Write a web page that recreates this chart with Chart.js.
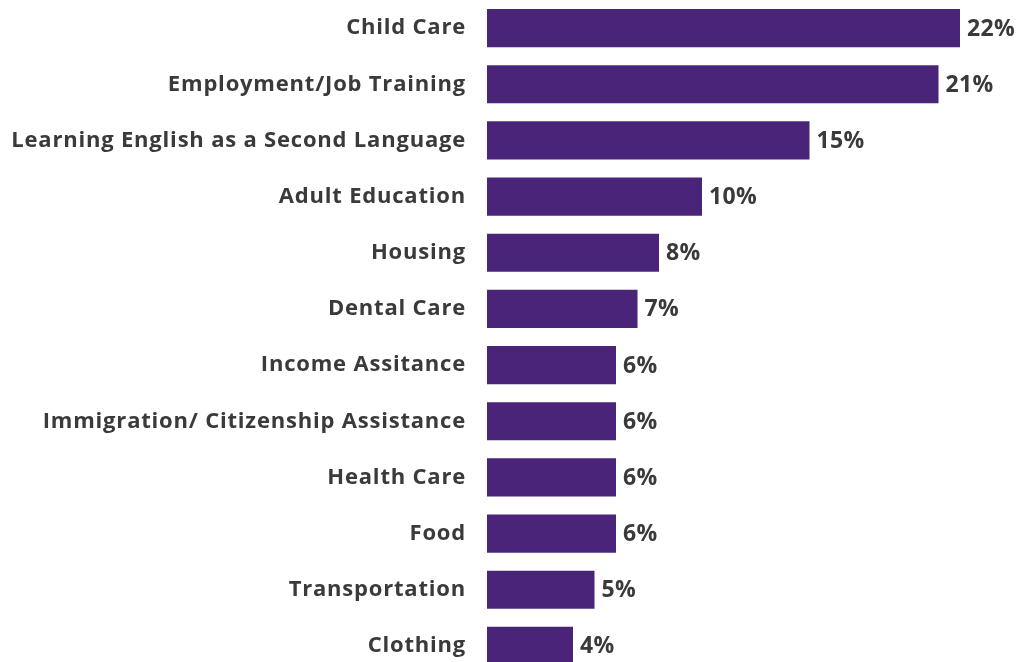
<!DOCTYPE html>
<html>
<head>
<meta charset="utf-8">
<title>Needed services</title>
<script src="https://cdn.jsdelivr.net/npm/chart.js@4.4.1/dist/chart.umd.min.js"></script>
<style>
  html, body { margin: 0; padding: 0; background: #fff; overflow: hidden; }
  #wrap { position: relative; width: 1020px; height: 674px; }
</style>
</head>
<body>
<div id="wrap"><canvas id="chart"></canvas></div>
<script>
  // Anteil der Befragten je benötigter Leistung (in %)
  var categories = [
    'Child Care',
    'Employment/Job Training',
    'Learning English as a Second Language',
    'Adult Education',
    'Housing',
    'Dental Care',
    'Income Assitance',
    'Immigration/ Citizenship Assistance',
    'Health Care',
    'Food',
    'Transportation',
    'Clothing'
  ];
  var shares = [22, 21, 15, 10, 8, 7, 6, 6, 6, 6, 5, 4];

  var BAR = '#4a2479';
  var INK = '#3a3a3a';
  var FONT = '"Open Sans", "Noto Sans", sans-serif';

  // etwas gesperrte Schrift für die Achsenbeschriftung
  var tracking = {
    id: 'tracking',
    beforeDraw: function (chart) { chart.ctx.letterSpacing = '0.8px'; },
    beforeDatasetsDraw: function (chart) { chart.ctx.letterSpacing = '0px'; }
  };

  // Prozentwerte rechts neben die Balken schreiben
  var valueLabels = {
    id: 'valueLabels',
    afterDatasetsDraw: function (chart) {
      var ctx = chart.ctx;
      var meta = chart.getDatasetMeta(0);
      ctx.save();
      ctx.letterSpacing = '0.3px';
      ctx.font = '700 23px ' + FONT;
      ctx.fillStyle = INK;
      ctx.textAlign = 'left';
      ctx.textBaseline = 'middle';
      meta.data.forEach(function (bar, i) {
        ctx.fillText(shares[i] + '%', bar.x + 7, bar.y + 1);
      });
      ctx.restore();
    }
  };

  new Chart(document.getElementById('chart').getContext('2d'), {
    type: 'bar',
    data: {
      labels: categories,
      datasets: [{
        data: shares,
        backgroundColor: BAR,
        borderWidth: 0,
        categoryPercentage: 1,
        barPercentage: 0.68
      }]
    },
    options: {
      indexAxis: 'y',
      responsive: true,
      maintainAspectRatio: false,
      animation: false,
      layout: { padding: { top: 0, right: 17, bottom: 0, left: 0 } },
      plugins: { legend: { display: false }, tooltip: { enabled: false } },
      scales: {
        x: { display: false, min: 0, max: 24 },
        y: {
          grid: { display: false, drawTicks: false },
          border: { display: false },
          afterFit: function (scale) {
            scale.width = 487;
            scale.paddingTop = 0;
            scale.paddingBottom = 0;
          },
          ticks: {
            padding: 21,
            color: INK,
            font: { family: FONT, size: 22, weight: '700' }
          }
        }
      }
    },
    plugins: [tracking, valueLabels]
  });
</script>
</body>
</html>
